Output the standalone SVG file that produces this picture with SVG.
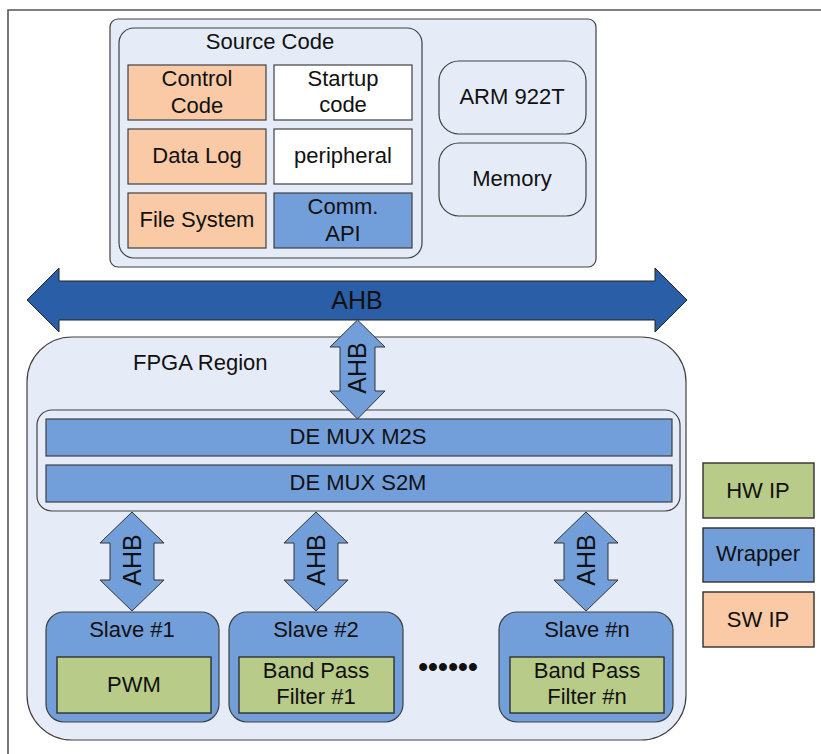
<svg xmlns="http://www.w3.org/2000/svg" width="821" height="754" viewBox="0 0 821 754">
  <style>
    text { font-family: "Liberation Sans", Arial, sans-serif; font-size: 22px; fill: #111; text-anchor: middle; }
    .panel { fill: #E6ECF7; stroke: #404040; stroke-width: 1.2; }
    .sw { fill: #F9CAA5; stroke: #404040; stroke-width: 1.2; }
    .plain { fill: #FFFFFF; stroke: #404040; stroke-width: 1.2; }
    .wrap { fill: #729FDA; stroke: #404040; stroke-width: 1.2; }
    .hw { fill: #B8CB88; stroke: #303030; stroke-width: 1.4; }
    .bus { fill: #2A5EA6; stroke: #222; stroke-width: 1; }
    .link { fill: #729FDA; stroke: #333; stroke-width: 1; }
    .lbl { font-size: 25px; }
    .dots { font-size: 28px; font-weight: bold; }
  </style>

  <!-- outer frame -->
  <path d="M8,754 V10 H821" fill="none" stroke="#555" stroke-width="1.6"/>

  <!-- processor subsystem -->
  <g id="cpu-subsystem">
    <rect class="panel" x="110" y="19" width="486" height="248" rx="8"/>
  </g>

  <g id="source-code">
    <rect class="panel" x="119" y="28" width="303" height="230" rx="15"/>
    <text x="270" y="49">Source Code</text>
  </g>
  <g id="control-code">
    <rect class="sw" x="128" y="65" width="138" height="55"/>
    <text x="197" y="86">Control</text>
    <text x="197" y="113">Code</text>
  </g>
  <g id="startup-code">
    <rect class="plain" x="274" y="65" width="138" height="55"/>
    <text x="343" y="86">Startup</text>
    <text x="343" y="112">code</text>
  </g>
  <g id="data-log">
    <rect class="sw" x="128" y="129" width="138" height="55"/>
    <text x="197" y="163">Data Log</text>
  </g>
  <g id="peripheral">
    <rect class="plain" x="274" y="129" width="138" height="55"/>
    <text x="343" y="163">peripheral</text>
  </g>
  <g id="file-system">
    <rect class="sw" x="128" y="193" width="138" height="55"/>
    <text x="197" y="227">File System</text>
  </g>
  <g id="comm-api">
    <rect class="wrap" x="274" y="193" width="138" height="55"/>
    <text x="343" y="214">Comm.</text>
    <text x="343" y="241">API</text>
  </g>
  <g id="arm922t">
    <rect class="panel" x="439" y="61" width="147" height="73" rx="20"/>
    <text x="512" y="104">ARM 922T</text>
  </g>
  <g id="memory">
    <rect class="panel" x="439" y="143" width="147" height="73" rx="20"/>
    <text x="512" y="186">Memory</text>
  </g>

  <!-- FPGA fabric -->
  <g id="fpga-region">
    <rect class="panel" x="27" y="337" width="659" height="403" rx="45"/>
    <text x="133" y="370" style="text-anchor:start">FPGA Region</text>
  </g>
  <g id="demux">
    <rect class="panel" x="37" y="410" width="643" height="101" rx="15"/>
  </g>
  <g id="demux-m2s">
    <rect class="wrap" x="46" y="419" width="626" height="37"/>
    <text x="358" y="444">DE MUX M2S</text>
  </g>
  <g id="demux-s2m">
    <rect class="wrap" x="46" y="465" width="626" height="37"/>
    <text x="358" y="490">DE MUX S2M</text>
  </g>

  <g id="slave-1">
    <rect class="wrap" x="46" y="612" width="173" height="110" rx="18"/>
    <text x="132" y="637">Slave #1</text>
    <rect class="hw" x="57" y="657" width="154" height="56"/>
    <text x="134" y="692">PWM</text>
  </g>
  <g id="slave-2">
    <rect class="wrap" x="229" y="612" width="174" height="110" rx="18"/>
    <text x="316" y="637">Slave #2</text>
    <rect class="hw" x="239" y="657" width="155" height="56"/>
    <text x="316" y="678">Band Pass</text>
    <text x="316" y="704">Filter #1</text>
  </g>
  <g id="ellipsis">
    <text class="dots" x="433" y="676">•••</text>
    <text class="dots" x="463" y="676">•••</text>
  </g>
  <g id="slave-n">
    <rect class="wrap" x="499" y="612" width="174" height="110" rx="18"/>
    <text x="587" y="637">Slave #n</text>
    <rect class="hw" x="510" y="657" width="154" height="56"/>
    <text x="587" y="678">Band Pass</text>
    <text x="587" y="704">Filter #n</text>
  </g>

  <!-- legend -->
  <g id="legend-hw">
    <rect class="hw" x="703" y="463" width="111" height="55"/>
    <text x="758" y="498">HW IP</text>
  </g>
  <g id="legend-wrapper">
    <rect class="wrap" x="703" y="528" width="111" height="54" style="stroke:#303030;stroke-width:1.4"/>
    <text x="758" y="561">Wrapper</text>
  </g>
  <g id="legend-sw">
    <rect class="sw" x="703" y="592" width="111" height="55" style="stroke:#303030;stroke-width:1.4"/>
    <text x="758" y="627">SW IP</text>
  </g>

  <!-- bus connections -->
  <g id="connectors">
    <g id="ahb-bus">
      <polygon class="bus" points="27,300 59,268 59,281 655,281 655,268 687,300 655,332 655,320 59,320 59,332"/>
      <text class="lbl" x="357" y="309">AHB</text>
    </g>
    <g id="ahb-demux">
      <polygon class="link" points="357.5,320 385,347 375,347 375,391 385,391 357.5,419 330,391 340,391 340,347 330,347"/>
      <text class="lbl" transform="translate(366,368) rotate(-90)">AHB</text>
    </g>
    <g id="ahb-slave-1">
      <polygon class="link" points="132,512 164,543 154,543 154,580 164,580 132,611 100,580 110,580 110,543 100,543"/>
      <text class="lbl" transform="translate(141,560) rotate(-90)">AHB</text>
    </g>
    <g id="ahb-slave-2">
      <polygon class="link" points="316,512 348,543 338,543 338,580 348,580 316,611 284,580 294,580 294,543 284,543"/>
      <text class="lbl" transform="translate(325,560) rotate(-90)">AHB</text>
    </g>
    <g id="ahb-slave-n">
      <polygon class="link" points="586,512 618,543 608,543 608,580 618,580 586,611 554,580 564,580 564,543 554,543"/>
      <text class="lbl" transform="translate(595,560) rotate(-90)">AHB</text>
    </g>
  </g>
</svg>
